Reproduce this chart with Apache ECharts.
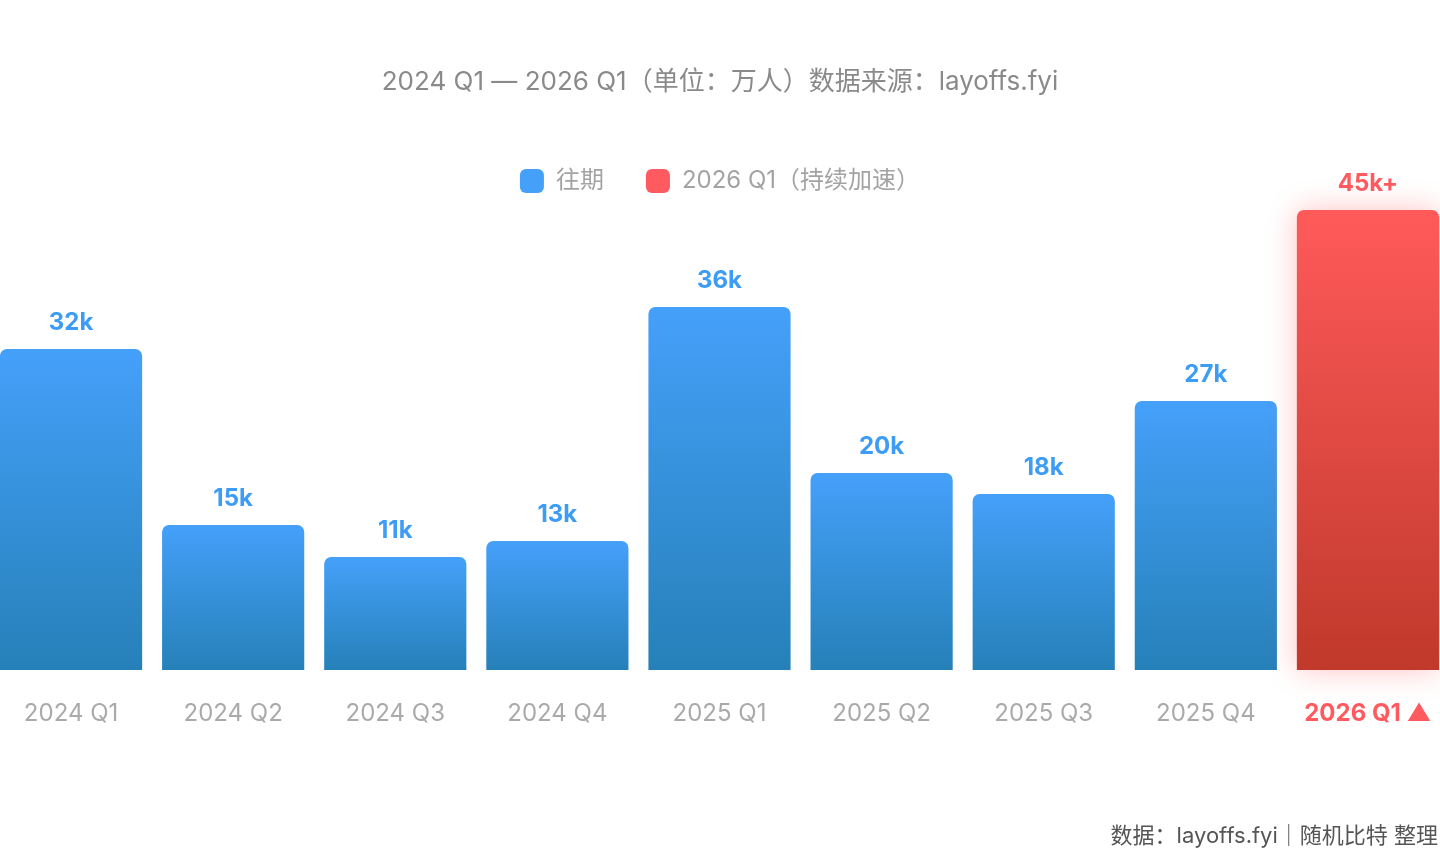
<!DOCTYPE html>
<html>
<head>
<meta charset="utf-8">
<style>
    html, body {margin: 0; padding: 0; background: #fff;}
    #main {width: 1440px; height: 850px;}
</style>
<script src="https://cdn.jsdelivr.net/npm/echarts@6/dist/echarts.min.js"></script>
</head>
<body>
<div id="main"></div>
<script>
    // 数据
    var categories = ['2024 Q1', '2024 Q2', '2024 Q3', '2024 Q4', '2025 Q1', '2025 Q2', '2025 Q3', '2025 Q4', '2026 Q1'];
    var pastValues = [32.1, 14.5, 11.3, 12.9, 36.3, 19.7, 17.6, 26.9, '-'];
    var currentValues = ['-', '-', '-', '-', '-', '-', '-', '-', 46.0];
    var valueLabels = ['32k', '15k', '11k', '13k', '36k', '20k', '18k', '27k', '45k+'];

    var font = "Inter, 'Noto Sans CJK SC', sans-serif";
    var myChart = echarts.init(document.getElementById('main'));

    var option = {
        backgroundColor: '#fff',
        textStyle: {fontFamily: font},
        title: {
            text: '2024 Q1 — 2026 Q1（单位：万人）数据来源：layoffs.fyi',
            left: 'center',
            top: 64,
            textStyle: {color: '#8a8a8a', fontSize: 26, fontWeight: 'normal', fontFamily: font}
        },
        graphic: [{
            type: 'text',
            right: 2,
            bottom: 3,
            style: {
                text: '数据：layoffs.fyi｜随机比特 整理',
                fill: '#555',
                font: '22px ' + font
            }
        }],
        legend: {
            top: 164,
            left: 'center',
            itemWidth: 24,
            itemHeight: 24,
            itemGap: 42,
            icon: 'roundRect',
            textStyle: {color: '#a3a3a3', fontSize: 24, fontFamily: font, padding: [0, 0, 0, 7]},
            data: [
                {name: '往期', itemStyle: {color: '#44a0f8'}},
                {name: '2026 Q1（持续加速）', itemStyle: {color: '#ff5a5f'}}
            ]
        },
        grid: {left: -10, width: 1459, top: 170, bottom: 180, outerBoundsMode: 'none'},
        xAxis: {
            type: 'category',
            data: categories,
            axisLine: {show: false},
            axisTick: {show: false},
            axisLabel: {
                interval: 0,
                margin: 32,
                fontSize: 24,
                color: '#aaa',
                fontFamily: font,
                formatter: function (v, i) {
                    if (i === categories.length - 1) {
                        return '{hl|' + v + ' ▲}';
                    }
                    return v;
                },
                rich: {
                    hl: {color: '#ff5a5f', fontSize: 24, fontWeight: 'bold', fontFamily: font}
                }
            }
        },
        yAxis: {
            type: 'value',
            min: 0,
            max: 50,
            show: false,
            splitLine: {show: false}
        },
        series: [
            {
                name: '往期',
                type: 'bar',
                stack: 'all',
                data: pastValues,
                barCategoryGap: '12.3%',
                itemStyle: {
                    borderRadius: [7, 7, 0, 0],
                    color: new echarts.graphic.LinearGradient(0, 0, 0, 1, [
                        {offset: 0, color: '#45a0fa'},
                        {offset: 1, color: '#2680b8'}
                    ])
                },
                label: {
                    show: true,
                    position: 'top',
                    distance: 14,
                    color: '#3d9cf5',
                    fontSize: 24,
                    fontWeight: 'bold',
                    fontFamily: font,
                    formatter: function (p) {
                        return valueLabels[p.dataIndex];
                    }
                }
            },
            {
                name: '2026 Q1（持续加速）',
                type: 'bar',
                stack: 'all',
                data: currentValues,
                itemStyle: {
                    borderRadius: [7, 7, 0, 0],
                    color: new echarts.graphic.LinearGradient(0, 0, 0, 1, [
                        {offset: 0, color: '#ff5a5a'},
                        {offset: 1, color: '#c0392b'}
                    ]),
                    shadowColor: 'rgba(255, 80, 80, 0.35)',
                    shadowBlur: 30
                },
                label: {
                    show: true,
                    position: 'top',
                    distance: 14,
                    color: '#ff5a5f',
                    fontSize: 24,
                    fontWeight: 'bold',
                    fontFamily: font,
                    formatter: function (p) {
                        return valueLabels[p.dataIndex];
                    }
                }
            }
        ]
    };

    myChart.setOption(option);
</script>
</body>
</html>
